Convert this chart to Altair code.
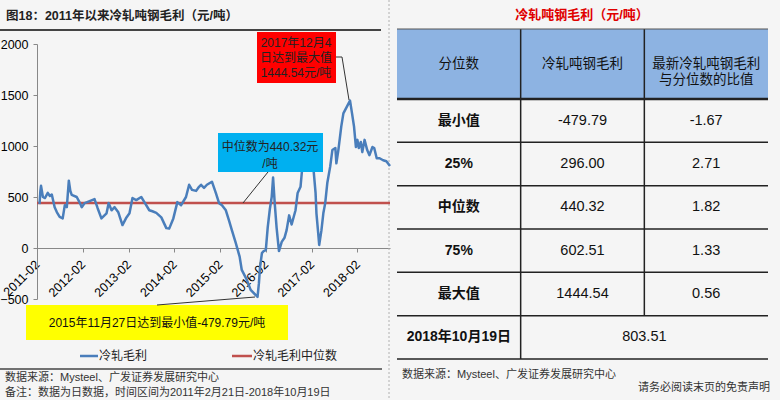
import altair as alt
import pandas as pd

# ---------------- data ----------------
dates = [
    "2011-02-21", "2011-02-28", "2011-03-05", "2011-03-12", "2011-03-20", "2011-04-05",
    "2011-04-28", "2011-05-15", "2011-05-30", "2011-06-22", "2011-07-10", "2011-08-01",
    "2011-08-25", "2011-09-11", "2011-09-27", "2011-10-13", "2011-10-25", "2011-11-05",
    "2011-12-15", "2012-01-10", "2012-01-24", "2012-02-16", "2012-03-27", "2012-05-05",
    "2012-05-30", "2012-06-29", "2012-08-09", "2012-08-26", "2012-09-18", "2012-10-12",
    "2012-11-11", "2012-12-14", "2013-01-15", "2013-02-08", "2013-03-04", "2013-04-03",
    "2013-05-13", "2013-06-07", "2013-07-16", "2013-08-10", "2013-09-10", "2013-10-20",
    "2013-11-29", "2013-12-22", "2014-01-24", "2014-02-25", "2014-03-27", "2014-05-05",
    "2014-05-30", "2014-06-22", "2014-07-25", "2014-08-17", "2014-09-02", "2014-09-26",
    "2014-10-19", "2014-11-28", "2014-12-29", "2015-01-24", "2015-02-16", "2015-03-19",
    "2015-04-13", "2015-05-06", "2015-06-06", "2015-07-07", "2015-07-24", "2015-09-02",
    "2015-10-03", "2015-11-27", "2015-12-08", "2015-12-17", "2016-01-01", "2016-01-15",
    "2016-02-01", "2016-02-16", "2016-03-04", "2016-03-19", "2016-03-30", "2016-04-12",
    "2016-04-27", "2016-05-16", "2016-06-07", "2016-06-29", "2016-07-16", "2016-08-05",
    "2016-08-25", "2016-09-25", "2016-10-12", "2016-11-04", "2016-11-15", "2016-12-14",
    "2017-01-15", "2017-02-16", "2017-03-04", "2017-03-11", "2017-03-25", "2017-04-02",
    "2017-04-20", "2017-05-05", "2017-05-20", "2017-06-06", "2017-06-29", "2017-07-16",
    "2017-08-09", "2017-08-17", "2017-09-02", "2017-09-25", "2017-10-12", "2017-12-04",
    "2017-12-20", "2018-01-05", "2018-01-20", "2018-02-01", "2018-02-12", "2018-02-28",
    "2018-03-12", "2018-03-30", "2018-04-20", "2018-05-08", "2018-06-01", "2018-06-15",
    "2018-07-05", "2018-07-28", "2018-08-25", "2018-09-20", "2018-10-19",
]
margin = [
    430, 560, 610, 560, 500, 490,
    540, 510, 525, 400, 350, 305,
    290, 420, 400, 660, 560, 520,
    500, 440, 400, 440, 460, 480,
    390, 290, 340, 440, 370, 400,
    350, 225, 300, 340, 490, 470,
    500, 450, 370, 360, 345, 300,
    195, 190, 290, 450, 420, 500,
    620, 570, 560, 600, 620, 590,
    620, 650, 540, 440, 420, 370,
    270, 175, 50, -85, -215, -310,
    -410, -479.79, -345, -185, -50, -30,
    -20, 200, 380, 500, 690, 440,
    200, -30, 60, 100, 175, 320,
    230, 370, 540, 600, 750, 950,
    900, 765, 540, 340, 145, 30,
    175, 340, 440, 640, 800, 960,
    980, 830, 960, 1190, 1320, 1444.54,
    1320, 1190, 990, 1060, 980, 1040,
    940, 1060, 960, 910, 990, 980,
    880, 880, 860, 850, 803.51,
]
median_value = 440.32
axis_start = "2011-02-01"
axis_end = "2018-10-19"
tick_years = [2011, 2012, 2013, 2014, 2015, 2016, 2017, 2018]
y_ticks = [-500, 0, 500, 1000, 1500, 2000]

series_name = "冷轧毛利"
median_name = "冷轧毛利中位数"

table_headers = ["分位数", "冷轧吨钢毛利", "最新冷轧吨钢毛利\n与分位数的比值"]
row_labels = ["最小值", "25%", "中位数", "75%", "最大值"]
row_values = ["-479.79", "296.00", "440.32", "602.51", "1444.54"]
row_ratios = ["-1.67", "2.71", "1.82", "1.33", "0.56"]
latest_label = "2018年10月19日"
latest_value = "803.51"

FONT = "Liberation Sans, Noto Sans CJK SC, sans-serif"
BLUE = "#4a7ebb"
RED = "#c0504d"


def D(year, month, day):
    return alt.DateTime(year=year, month=month, date=day, hours=12, utc=True)


def iso(s):
    y, m, d = map(int, s.split("-"))
    return alt.DateTime(year=y, month=m, date=d, utc=True)


xs = alt.Scale(domain=[iso(axis_start), iso(axis_end)], range=[37, 390])
ys = alt.Scale(domain=[-500, 2000], range=[299, 44], nice=False, zero=False)

df = pd.DataFrame({"date": dates, "margin": margin})

line = alt.Chart(df).mark_line(color=BLUE, strokeWidth=2.5, strokeJoin="round").encode(
    x=alt.X("date:T", scale=xs, title=None,
            axis=alt.Axis(values=[D(y, 2, 1) for y in tick_years], format="%Y-%m",
                          labelAngle=315, labelAlign="right", labelBaseline="middle",
                          labelPadding=10, tickSize=4, offset=-152, grid=False,
                          domainColor="#888", tickColor="#888", labelColor="#000",
                          labelFont=FONT, labelFontSize=12.5, labelFlush=False,
                          labelOverlap=False)),
    y=alt.Y("margin:Q", scale=ys, title=None,
            axis=alt.Axis(values=y_ticks, format="d", offset=-37, grid=False, tickSize=4,
                          labelPadding=5, domainColor="#888", tickColor="#888",
                          labelColor="#000", labelFont=FONT, labelFontSize=12.5)),
)

med_df = pd.DataFrame({"d0": [axis_start], "d1": [axis_end], "v": [median_value]})
med = alt.Chart(med_df).mark_rule(color=RED, strokeWidth=2.5).encode(
    x=alt.X("d0:T", scale=xs, axis=None), x2="d1:T",
    y=alt.Y("v:Q", scale=ys, axis=None),
)

one = pd.DataFrame({"a": [0]})


def box(x1, x2, y1, y2, fill):
    return alt.Chart(one).mark_rect(fill=fill).encode(
        x=alt.value(x1), x2=alt.value(x2), y=alt.value(y1), y2=alt.value(y2))


def seg(x1, y1, x2, y2, color="#333", w=1.0):
    return alt.Chart(one).mark_rule(color=color, strokeWidth=w).encode(
        x=alt.value(x1), x2=alt.value(x2), y=alt.value(y1), y2=alt.value(y2))


def txt(s, x, y, size=12, color="#000", weight="normal", align="left",
        baseline="middle", lh=None):
    kw = {}
    if lh is not None:
        kw["lineHeight"] = lh
    return alt.Chart(pd.DataFrame({"t": [s]})).mark_text(
        font=FONT, fontSize=size, color=color, fontWeight=weight, align=align,
        baseline=baseline, lineBreak="\n", **kw
    ).encode(text="t:N", x=alt.value(x), y=alt.value(y))


layers = []
# frame lines / separators
layers.append(seg(0, 30, 381, 30, "#444", 2))
layers.append(seg(0, 369, 382, 369, "#444", 1.5))
layers.append(alt.Chart(one).mark_rule(color="#b0b0b0", strokeWidth=1, strokeDash=[2, 2]).encode(
    x=alt.value(389), y=alt.value(0), y2=alt.value(400)))

layers += [med, line]

# annotations
layers.append(box(257, 336, 32, 83, "#ff0000"))
layers.append(txt("2017年12月4\n日达到最大值\n1444.54元/吨", 296, 43, 12, "#222",
                  align="center", lh=15))
layers.append(seg(336, 57, 342, 57, "#333", 1))
layers.append(seg(342, 57, 349, 100, "#333", 1))

layers.append(box(218, 323, 133, 172, "#00b0f0"))
layers.append(txt("中位数为440.32元\n/吨", 270, 147, 12, "#222", align="center", lh=17))
layers.append(seg(268, 172, 243, 203, "#333", 1))

layers.append(box(26, 288, 305, 340, "#ffff00"))
layers.append(txt("2015年11月27日达到最小值-479.79元/吨", 157, 323, 12, "#111", align="center"))
layers.append(seg(157, 305, 255, 297, "#333", 1))

# legend
layers.append(seg(80, 356, 98, 356, BLUE, 2.5))
layers.append(txt(series_name, 99, 356, 12, "#222"))
layers.append(seg(232, 356, 252, 356, RED, 2.5))
layers.append(txt(median_name, 253, 356, 12, "#222"))

# titles & footers
layers.append(txt("图18：2011年以来冷轧吨钢毛利（元/吨）", 6, 16, 12.5, "#222", "bold"))
layers.append(txt("数据来源：Mysteel、广发证券发展研究中心", 5, 378, 11, "#333"))
layers.append(txt("备注：数据为日数据，时间区间为2011年2月21日-2018年10月19日", 5, 393, 11, "#333"))
layers.append(txt("冷轧吨钢毛利（元/吨）", 582, 15, 13, "#e00000", "bold", align="center"))
layers.append(txt("数据来源：Mysteel、广发证券发展研究中心", 402, 375, 11, "#333"))
layers.append(txt("请务必阅读末页的免责声明", 770, 388, 11, "#333", align="right"))

# ---------------- table ----------------
tx = alt.Scale(domain=[0, 3], range=[397, 768])
thy = alt.Scale(domain=[0, 1], range=[29, 99])
tby = alt.Scale(domain=[0, 6], range=[99, 359])

hdr_bg = pd.DataFrame({"x0": [0], "x1": [3], "y0": [0], "y1": [1]})
layers.append(alt.Chart(hdr_bg).mark_rect(fill="#8db3e2").encode(
    x=alt.X("x0:Q", scale=tx, axis=None), x2="x1:Q",
    y=alt.Y("y0:Q", scale=thy, axis=None), y2="y1:Q"))

hdr_txt = pd.DataFrame({"c": [0.5, 1.5, 2.5], "r": [0.5, 0.5, 0.5], "t": table_headers})
layers.append(alt.Chart(hdr_txt).mark_text(font=FONT, fontSize=13.5, color="#111",
                                           lineBreak="\n", lineHeight=16).encode(
    x=alt.X("c:Q", scale=tx, axis=None), y=alt.Y("r:Q", scale=thy, axis=None), text="t:N"))

hdr_v = pd.DataFrame({"x": [1, 2], "y0": [0, 0], "y1": [1, 1]})
layers.append(alt.Chart(hdr_v).mark_rule(color="#222", strokeWidth=1.5).encode(
    x=alt.X("x:Q", scale=tx, axis=None), y=alt.Y("y0:Q", scale=thy, axis=None), y2="y1:Q"))
hdr_h = pd.DataFrame({"x0": [0], "x1": [3], "y": [0]})
layers.append(alt.Chart(hdr_h).mark_rule(color="#555", strokeWidth=1).encode(
    x=alt.X("x0:Q", scale=tx, axis=None), x2="x1:Q", y=alt.Y("y:Q", scale=thy, axis=None)))

body_h = pd.DataFrame({"x0": [0] * 7, "x1": [3] * 7, "y": list(range(7)),
                       "w": [2.5, 1.5, 1.5, 1.5, 1.5, 1.5, 1.5]})
layers.append(alt.Chart(body_h).mark_rule(color="#222").encode(
    x=alt.X("x0:Q", scale=tx, axis=None), x2="x1:Q",
    y=alt.Y("y:Q", scale=tby, axis=None),
    strokeWidth=alt.StrokeWidth("w:Q", scale=None, legend=None)))
body_v = pd.DataFrame({"x": [1, 2], "y0": [0, 0], "y1": [6, 5]})
layers.append(alt.Chart(body_v).mark_rule(color="#222", strokeWidth=1.5).encode(
    x=alt.X("x:Q", scale=tx, axis=None), y=alt.Y("y0:Q", scale=tby, axis=None), y2="y1:Q"))

n = len(row_labels)
lab_df = pd.DataFrame({"c": [0.5] * (n + 1), "r": [i + 0.5 for i in range(n + 1)],
                       "t": row_labels + [latest_label]})
layers.append(alt.Chart(lab_df).mark_text(font=FONT, fontSize=14, fontWeight="bold", color="#111").encode(
    x=alt.X("c:Q", scale=tx, axis=None), y=alt.Y("r:Q", scale=tby, axis=None), text="t:N"))
val_df = pd.DataFrame({"c": [1.5] * n + [2.5] * n + [2.0],
                       "r": [i + 0.5 for i in range(n)] * 2 + [n + 0.5],
                       "t": row_values + row_ratios + [latest_value]})
layers.append(alt.Chart(val_df).mark_text(font=FONT, fontSize=14.5, color="#111").encode(
    x=alt.X("c:Q", scale=tx, axis=None), y=alt.Y("r:Q", scale=tby, axis=None), text="t:N"))

chart = alt.layer(*layers).resolve_scale(x="independent", y="independent").properties(
    width=780, height=400, autosize=alt.AutoSizeParams(type="none"), padding=0,
    background="#f5f5f5",
).configure_view(stroke=None)

chart.save("out.html", embed_options={"renderer": "svg", "actions": False})
